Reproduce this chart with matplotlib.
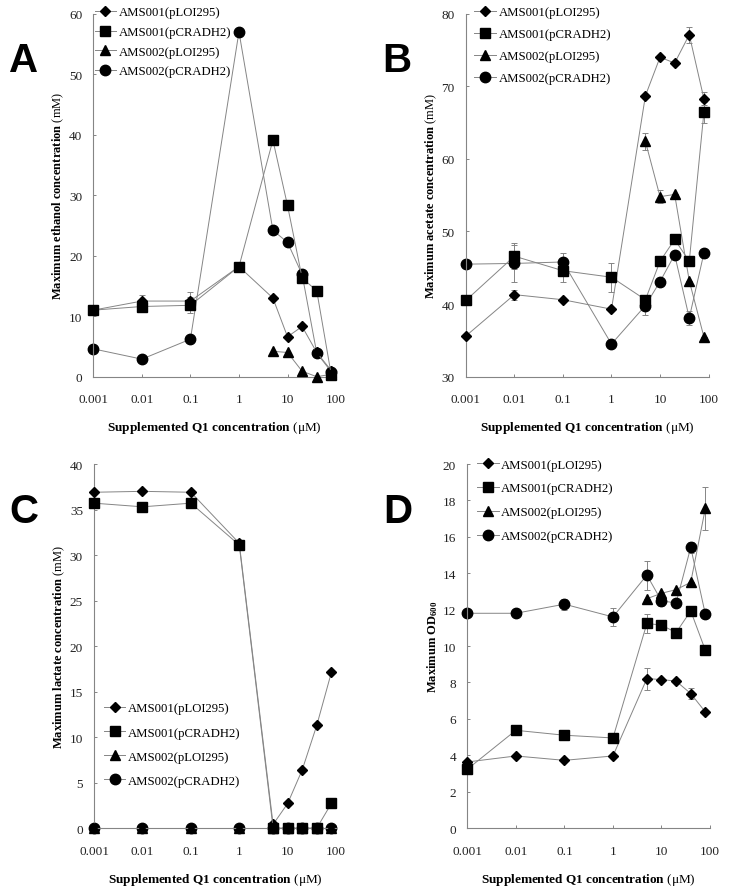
import numpy as np
import matplotlib
matplotlib.use("Agg")
import matplotlib.pyplot as plt
from matplotlib.ticker import NullLocator, FixedLocator, FixedFormatter

plt.rcParams['font.family'] = ['Liberation Serif', 'DejaVu Serif']
plt.rcParams['mathtext.fontset'] = 'custom'
plt.rcParams['mathtext.rm'] = 'Liberation Serif'
plt.rcParams['mathtext.bf'] = 'Liberation Serif:bold'
plt.rcParams['mathtext.it'] = 'Liberation Serif:italic'

nan = np.nan
# Q1 concentrations (uM)
conc = [0.001, 0.01, 0.1, 1, 5, 10, 20, 40, 80]
xticks = [0.001, 0.01, 0.1, 1, 10, 100]
xtick_labels = ["0.001", "0.01", "0.1", "1", "10", "100"]
series_names = ["AMS001(pLOI295)", "AMS001(pCRADH2)", "AMS002(pLOI295)", "AMS002(pCRADH2)"]

# A - ethanol (mM)
eth_001_lo = [11.0, 12.5, 12.5, 18.2, 13.0, 6.6, 8.3, 4.0, 1.0]
eth_001_cr = [11.0, 11.6, 11.8, 18.2, 39.1, 28.3, 16.3, 14.2, 0.2]
eth_002_lo = [nan, nan, nan, nan, 4.2, 4.0, 0.9, 0.0, 0.4]
eth_002_cr = [4.6, 2.9, 6.2, 57.0, 24.2, 22.2, 16.9, 3.9, 0.8]
eth_err_001_lo = [0.5, 1.0, 1.5, 0, 0, 0, 0, 0, 0]
eth_err_001_cr = [0.8, 0, 1.3, 0, 0, 0, 0, 0, 0]

# B - acetate (mM)
ace_001_lo = [35.6, 41.3, 40.6, 39.3, 68.7, 74.0, 73.2, 77.1, 68.3]
ace_001_cr = [40.5, 46.6, 44.6, 43.7, 40.6, 45.9, 48.9, 45.9, 66.4]
ace_002_lo = [nan, nan, nan, nan, 62.4, 54.8, 55.1, 43.2, 35.5]
ace_002_cr = [45.5, 45.6, 45.8, 34.5, 39.8, 43.1, 46.8, 38.1, 47.0]
ace_err_001_lo = [0, 0.7, 0, 0, 0, 0, 0, 1.1, 0.9]
ace_err_001_cr = [0, 1.8, 1.5, 2.0, 0, 0, 0, 0, 1.5]
ace_err_002_lo = [0, 0, 0, 0, 1.2, 0.9, 0, 0, 0]
ace_err_002_cr = [0, 2.6, 1.3, 0, 1.3, 0, 0, 1.0, 0.6]

# C - lactate (mM)
lac_001_lo = [36.9, 37.0, 36.9, 31.3, 0.4, 2.7, 6.4, 11.3, 17.1]
lac_001_cr = [35.7, 35.3, 35.7, 31.1, 0, 0, 0, 0, 2.7]
lac_002_lo = [0, 0, 0, 0, 0, 0, 0, 0, 0]
lac_002_cr = [0, 0, 0, 0, 0, 0, 0, 0, 0]

# D - OD600
od_001_lo = [3.63, 3.96, 3.72, 3.96, 8.21, 8.16, 8.07, 7.39, 6.38]
od_001_cr = [3.23, 5.37, 5.10, 4.95, 11.24, 11.15, 10.74, 11.93, 9.77]
od_002_lo = [nan, nan, nan, nan, 12.6, 12.9, 13.1, 13.5, 17.56]
od_002_cr = [11.8, 11.8, 12.3, 11.6, 13.9, 12.48, 12.37, 15.42, 11.75]
od_err_001_lo = [0, 0, 0, 0, 0.6, 0, 0, 0.3, 0]
od_err_001_cr = [0, 0, 0, 0, 0.5, 0, 0, 0, 0]
od_err_002_lo = [0, 0, 0, 0, 0, 0, 0, 0, 1.2]
od_err_002_cr = [0, 0, 0.3, 0.5, 0.8, 0.3, 0, 0.3, 0]

markers = ['D', 's', '^', 'o']
msizes = [5.3, 7, 7.5, 7.5]
zorders = [4, 5, 3, 2]
line_col = '#858585'

panels = [
    dict(letter='A', rect=[0.128, 0.578, 0.333, 0.4056],
         ys=[eth_001_lo, eth_001_cr, eth_002_lo, eth_002_cr],
         errs=[eth_err_001_lo, eth_err_001_cr, None, None],
         ylim=(0, 60), yticks=np.arange(0, 61, 10),
         ylabel=r"$\mathbf{Maximum\ ethanol\ concentration}$ (mM)",
         leg=dict(anchor=(0.005, 1.02), spacing=0.6), lpos=(24, 72)),
    dict(letter='B', rect=[0.639, 0.578, 0.333, 0.4056],
         ys=[ace_001_lo, ace_001_cr, ace_002_lo, ace_002_cr],
         errs=[ace_err_001_lo, ace_err_001_cr, ace_err_002_lo, ace_err_002_cr],
         ylim=(30, 80), yticks=np.arange(30, 81, 10),
         ylabel=r"$\mathbf{Maximum\ acetate\ concentration}$ (mM)",
         leg=dict(anchor=(0.035, 1.02), spacing=0.78), lpos=(397, 72)),
    dict(letter='C', rect=[0.129, 0.0737, 0.332, 0.4067],
         ys=[lac_001_lo, lac_001_cr, lac_002_lo, lac_002_cr],
         errs=[None, None, None, None],
         ylim=(0, 40), yticks=np.arange(0, 41, 5),
         ylabel=r"$\mathbf{Maximum\ lactate\ concentration}$ (mM)",
         leg=dict(anchor=(0.04, 0.345), spacing=0.95), lpos=(24, 523)),
    dict(letter='D', rect=[0.641, 0.0737, 0.333, 0.4067],
         ys=[od_001_lo, od_001_cr, od_002_lo, od_002_cr],
         errs=[od_err_001_lo, od_err_001_cr, od_err_002_lo, od_err_002_cr],
         ylim=(0, 20), yticks=np.arange(0, 21, 2),
         ylabel=r"$\mathbf{Maximum\ OD_{600}}$",
         leg=dict(anchor=(0.04, 1.015), spacing=0.93), lpos=(398, 523)),
]

fig = plt.figure(figsize=(7.29, 8.95), dpi=100)

for p in panels:
    ax = fig.add_axes(p['rect'])
    handles = []
    for i in range(4):
        y = p['ys'][i]
        h, = ax.plot(conc, y, color=line_col, lw=0.7, marker=markers[i],
                     ms=msizes[i], mfc='black', mec='black', zorder=zorders[i],
                     clip_on=False, label=series_names[i])
        handles.append(h)
        if p['errs'][i] is not None:
            ax.errorbar(conc, y, yerr=p['errs'][i], fmt='none', ecolor=line_col,
                        elinewidth=0.7, capsize=2, capthick=0.7, zorder=1)
    ax.set_xscale('log')
    ax.set_xlim(0.001, 100)
    ax.set_ylim(*p['ylim'])
    ax.xaxis.set_major_locator(FixedLocator(xticks))
    ax.xaxis.set_major_formatter(FixedFormatter(xtick_labels))
    ax.xaxis.set_minor_locator(NullLocator())
    ax.set_yticks(p['yticks'])
    ax.set_yticklabels([str(int(v)) for v in p['yticks']])
    for s in ['top', 'right']:
        ax.spines[s].set_visible(False)
    for s in ['left', 'bottom']:
        ax.spines[s].set_color(line_col)
        ax.spines[s].set_linewidth(0.8)
    ax.tick_params(axis='both', direction='in', length=2.5, width=0.7,
                   color=line_col, labelsize=9.5, colors='#222222')
    ax.tick_params(axis='x', pad=12)
    ax.tick_params(axis='y', pad=8)
    ax.set_ylabel(p['ylabel'], fontsize=9, labelpad=2)
    ax.set_xlabel(r"$\mathbf{Supplemented\ Q1\ concentration}$ ($\mathrm{\mu}$M)",
                  fontsize=9.5, labelpad=10)
    ax.legend(handles=handles, loc='upper left', bbox_to_anchor=p['leg']['anchor'],
              frameon=False, fontsize=9.2, handlelength=1.7, handletextpad=0.2,
              borderaxespad=0, borderpad=0, labelspacing=p['leg']['spacing'])
    fig.text(p['lpos'][0] / 729, 1 - p['lpos'][1] / 895, p['letter'],
             fontsize=29, fontweight='bold', family='Liberation Sans',
             ha='center', va='baseline')

fig.savefig('out.png', dpi=100)
